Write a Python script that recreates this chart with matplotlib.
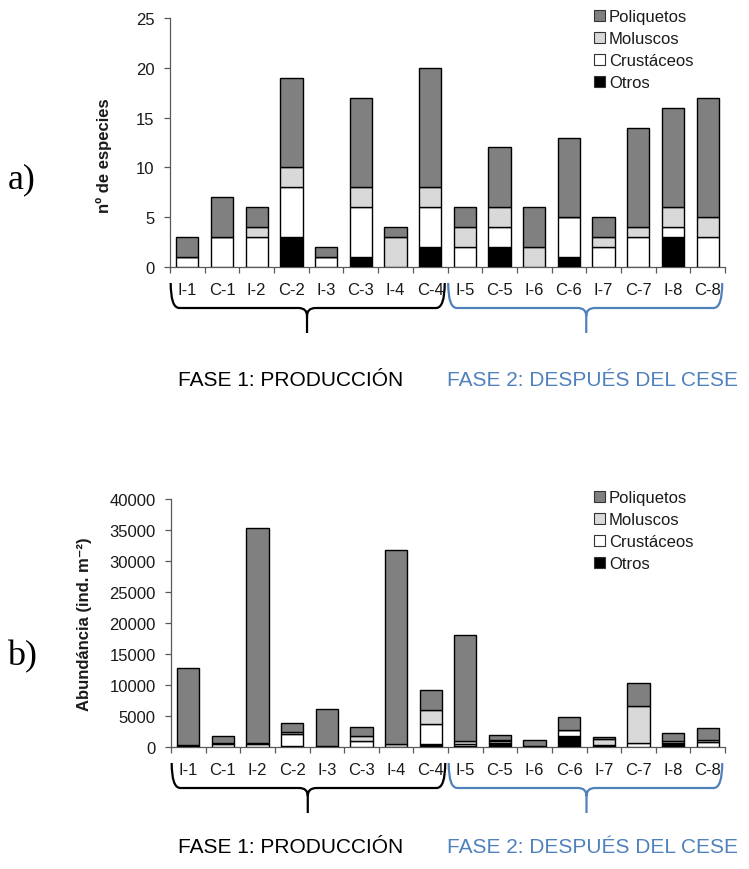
import matplotlib
matplotlib.use("Agg")
import matplotlib.pyplot as plt
import numpy as np
from matplotlib.path import Path
from matplotlib.patches import PathPatch, Patch

plt.rcParams['font.family'] = ['Liberation Sans', 'DejaVu Sans']

categories = ["I-1", "C-1", "I-2", "C-2", "I-3", "C-3", "I-4", "C-4",
              "I-5", "C-5", "I-6", "C-6", "I-7", "C-7", "I-8", "C-8"]
series_names = ["Otros", "Crustáceos", "Moluscos", "Poliquetos"]

# a) number of species (stacked from bottom)
sp_otros = [0, 0, 0, 3, 0, 1, 0, 2, 0, 2, 0, 1, 0, 0, 3, 0]
sp_crust = [1, 3, 3, 5, 1, 5, 0, 4, 2, 2, 0, 4, 2, 3, 1, 3]
sp_molus = [0, 0, 1, 2, 0, 2, 3, 2, 2, 2, 2, 0, 1, 1, 2, 2]
sp_poliq = [2, 4, 2, 9, 1, 9, 1, 12, 2, 6, 4, 8, 2, 10, 10, 12]

# b) abundance (ind. m-2)
ab_otros = [300, 0, 0, 100, 200, 0, 0, 500, 100, 600, 150, 1850, 200, 0, 450, 0]
ab_crust = [0, 450, 500, 1950, 0, 900, 0, 3200, 350, 350, 0, 900, 150, 700, 200, 800]
ab_molus = [0, 200, 200, 350, 0, 900, 500, 2300, 550, 180, 0, 0, 950, 5850, 300, 300]
ab_poliq = [12400, 1150, 34600, 1500, 5850, 1500, 31300, 3200, 17100, 870, 950, 2150, 300, 3700, 1350, 1950]

phase_labels = ["FASE 1: PRODUCCIÓN", "FASE 2: DESPUÉS DEL CESE"]
phase_groups = [(0, 7), (8, 15)]
phase_colors = ["black", "#4F81BD"]

colors = {"Otros": "black", "Crustáceos": "white", "Moluscos": "#d9d9d9", "Poliquetos": "#808080"}

W, H = 749, 870
fig = plt.figure(figsize=(W / 100, H / 100), dpi=100)

def px_axes(left, top, right, bottom):
    return fig.add_axes([left / W, 1 - bottom / H, (right - left) / W, (bottom - top) / H])

ax1 = px_axes(170, 19, 725, 268)
ax2 = px_axes(171, 500, 725, 748)

text_color = "#1a1a1a"
spine_color = "#595959"

def brace(ax, x0, x1, xm, color, ya, y1, y2, rx, ry):
    verts = [(x0, ya), (x0, y1), (x0 + rx, y1),
             (xm - rx, y1), (xm, y1), (xm, y1 - ry),
             (xm, y2)]
    codes = [Path.MOVETO, Path.CURVE3, Path.CURVE3,
             Path.LINETO, Path.CURVE3, Path.CURVE3,
             Path.LINETO]
    verts2 = [(xm, y1 - ry), (xm, y1), (xm + rx, y1),
              (x1 - rx, y1), (x1, y1), (x1, ya)]
    codes2 = [Path.MOVETO, Path.CURVE3, Path.CURVE3,
              Path.LINETO, Path.CURVE3, Path.CURVE3]
    p = Path(verts + verts2, codes + codes2)
    ax.add_patch(PathPatch(p, facecolor="none", edgecolor=color, lw=1.6,
                           transform=ax.get_xaxis_transform(), clip_on=False))

def draw(ax, otros, crust, molus, poliq, ymax, ystep, ylabel, label_x_px, ylabel_y,
         leg_anchor, brace_px, fase_px):
    x = np.arange(len(categories))
    data = {"Otros": otros, "Crustáceos": crust, "Moluscos": molus, "Poliquetos": poliq}
    bottom = np.zeros(len(categories))
    for name in series_names:
        vals = np.array(data[name], dtype=float)
        ax.bar(x, vals, width=0.64, bottom=bottom, color=colors[name],
               edgecolor="black", linewidth=1.0, zorder=3)
        bottom += vals
    ax.set_xlim(-0.5, len(categories) - 0.5)
    ax.set_ylim(0, ymax)
    ax.set_yticks(np.arange(0, ymax + 1, ystep))
    ax.set_xticks(x)
    ax.set_xticklabels(categories)
    ax.set_xticks(np.arange(-0.5, len(categories), 1.0), minor=True)
    ax.tick_params(axis="x", which="major", length=0, pad=11, labelsize=12, colors=text_color)
    ax.tick_params(axis="x", which="minor", length=4.5, width=0.9, direction="out", color=spine_color)
    ax.tick_params(axis="y", length=4, width=0.9, direction="out", pad=7, labelsize=12,
                   color=spine_color, labelcolor=text_color)
    for s in ["top", "right"]:
        ax.spines[s].set_visible(False)
    for s in ["left", "bottom"]:
        ax.spines[s].set_color(spine_color)
        ax.spines[s].set_linewidth(0.9)
    pos = ax.get_position()
    wpx = pos.width * W
    hpx = pos.height * H
    ax.set_ylabel(ylabel, fontsize=12, fontweight="bold", color=text_color)
    ax.yaxis.set_label_coords((label_x_px - pos.x0 * W) / wpx, ylabel_y)

    handles = [Patch(facecolor=colors[n], edgecolor="#333333", linewidth=0.8) for n in reversed(series_names)]
    fig.legend(handles, list(reversed(series_names)), loc="upper left",
               bbox_to_anchor=leg_anchor, bbox_transform=fig.transFigure,
               frameon=False, fontsize=12, handlelength=0.65, handleheight=0.65,
               handletextpad=0.25, labelspacing=0.42, borderpad=0, borderaxespad=0,
               labelcolor=text_color)

    ya, y1, y2 = brace_px
    for (g0, g1), col in zip(phase_groups, phase_colors):
        lo = g0 - 0.48
        hi = g1 + 0.42
        xm = (g0 + g1) / 2 - 0.05 if g0 == 0 else (g0 + g1) / 2
        brace(ax, lo, hi, xm, col, -ya / hpx, -y1 / hpx, -y2 / hpx, 0.25, 8 / hpx)
    ax.text((178 - pos.x0 * W) / wpx, -fase_px / hpx, phase_labels[0], transform=ax.transAxes,
            fontsize=15, color=phase_colors[0], ha="left", va="center")
    ax.text((447 - pos.x0 * W) / wpx, -fase_px / hpx, phase_labels[1], transform=ax.transAxes,
            fontsize=15, color=phase_colors[1], ha="left", va="center")

draw(ax1, sp_otros, sp_crust, sp_molus, sp_poliq, 25, 5, "nº de especies", 112, 0.45,
     (594 / W, 1 - 10 / H), (16, 41, 66), 113)
draw(ax2, ab_otros, ab_crust, ab_molus, ab_poliq, 40000, 5000, "Abundáncia (ind. m⁻²)", 92, 0.5,
     (594 / W, 1 - 491 / H), (16, 41, 66), 100)

fig.text(22 / W, 1 - 180 / H, "a)", fontsize=26, family="Liberation Serif", va="center", ha="center")
fig.text(22 / W, 1 - 657 / H, "b)", fontsize=26, family="Liberation Serif", va="center", ha="center")

fig.savefig("out.png", dpi=100)
